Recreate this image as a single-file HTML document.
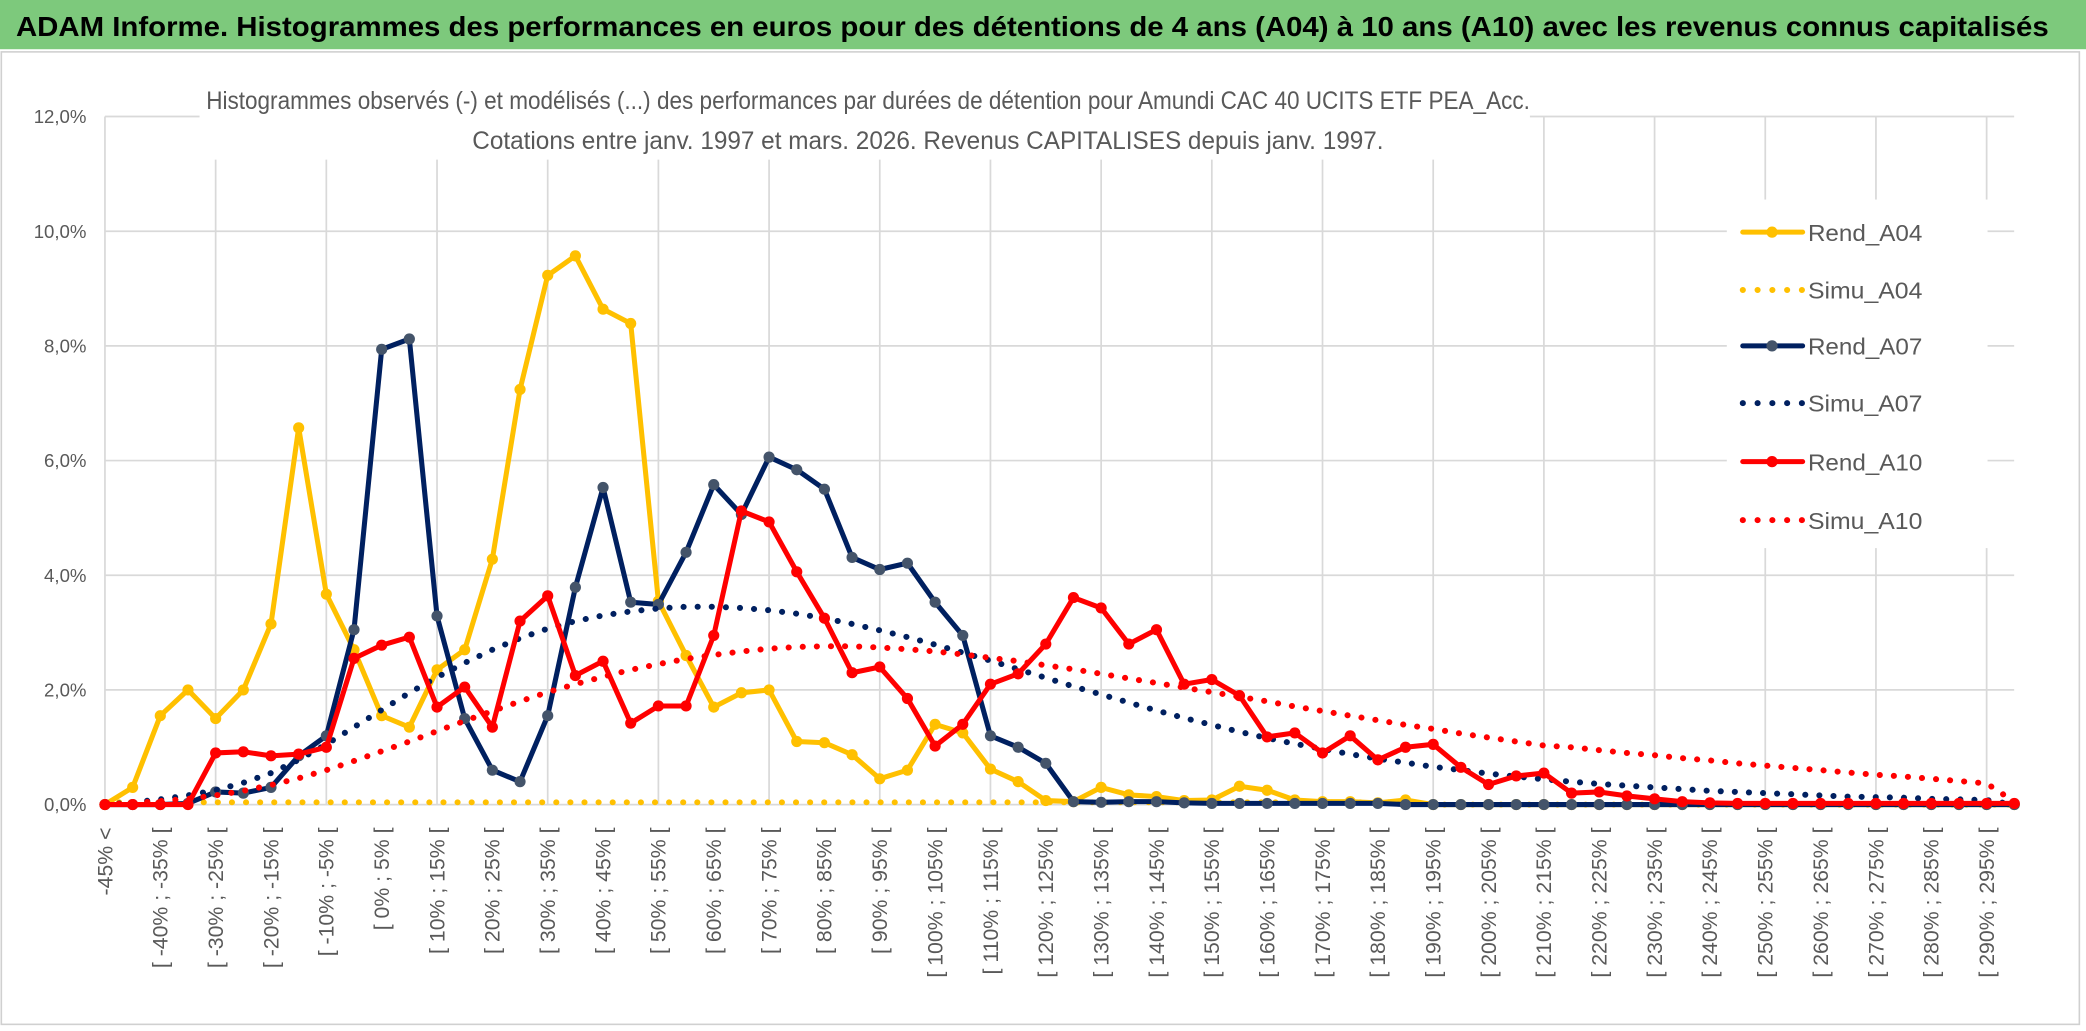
<!DOCTYPE html>
<html><head><meta charset="utf-8"><style>
html,body{margin:0;padding:0;background:#fff;}
svg{display:block;}
text{font-family:"Liberation Sans",sans-serif;}
</style></head><body>
<svg id="chart" width="2086" height="1031" viewBox="0 0 1568 775" preserveAspectRatio="none" xmlns="http://www.w3.org/2000/svg">
<rect x="0" y="0" width="1568" height="775" fill="#fff"/>
<rect x="0" y="0" width="1568" height="37" fill="#7dc97c"/>
<text x="12" y="27" font-size="21" font-weight="bold" fill="#000" textLength="1528" lengthAdjust="spacingAndGlyphs">ADAM Informe. Histogrammes des performances en euros pour des détentions de 4 ans (A04) à 10 ans (A10) avec les revenus connus capitalisés</text>
<rect x="1" y="39" width="1562" height="731" fill="none" stroke="#d0d0d0" stroke-width="1.2"/>
<g id="grid"></g>
<g id="series"></g>
<rect x="150" y="58" width="1000" height="62" fill="#fff"/>
<text x="155" y="82" font-size="18.5" fill="#595959" textLength="995" lengthAdjust="spacingAndGlyphs">Histogrammes observés (-) et modélisés (...) des performances par durées de détention pour Amundi CAC 40 UCITS ETF PEA_Acc.</text>
<text x="355" y="112" font-size="18.5" fill="#595959" textLength="685" lengthAdjust="spacingAndGlyphs">Cotations entre janv. 1997 et mars. 2026. Revenus CAPITALISES depuis janv. 1997.</text>
<g id="yaxis"></g>
<g id="xaxis"></g>
<rect x="1298" y="150" width="196" height="262" fill="#fff"/>
<g id="legend"></g>
</svg>
<script>
const categoriesLow = [];
for (let i = 1; i < 70; i++) categoriesLow.push(-45 + 5 * (i - 1));
const yTicks = [0, 2, 4, 6, 8, 10, 12];
const yTickLabels = ["0,0%", "2,0%", "4,0%", "6,0%", "8,0%", "10,0%", "12,0%"];
const rendA04 = [0,0.3,1.55,2.0,1.5,2.0,3.15,6.57,3.67,2.7,1.55,1.35,2.35,2.7,4.28,7.24,9.23,9.57,8.64,8.39,3.55,2.6,1.7,1.95,2.0,1.1,1.08,0.87,0.45,0.6,1.4,1.25,0.62,0.4,0.07,0.05,0.3,0.17,0.14,0.07,0.08,0.32,0.25,0.08,0.05,0.05,0.03,0.08,0,0,0,0,0,0,0,0,0,0,0,0,0,0,0,0,0,0,0,0,0,0];
const simuA04 = [0.04,0.04,0.04,0.04,0.04,0.04,0.04,0.04,0.04,0.04,0.04,0.04,0.04,0.04,0.04,0.04,0.04,0.04,0.04,0.04,0.04,0.04,0.04,0.04,0.04,0.04,0.04,0.04,0.04,0.04,0.04,0.04,0.04,0.04,0.04,0.04,0.04,0.04,0.04,0.04,0.04,0.04,0.04,0.04,0.04,0.04,0.04,0.04,0,0,0,0,0,0,0,0,0,0,0,0,0,0,0,0,0,0,0,0,0,0];
const rendA07 = [0,0,0,0.02,0.22,0.2,0.3,0.85,1.2,3.05,7.94,8.12,3.29,1.5,0.6,0.4,1.55,3.79,5.53,3.53,3.49,4.4,5.58,5.06,6.06,5.84,5.5,4.31,4.1,4.21,3.53,2.95,1.2,1.0,0.72,0.05,0.04,0.05,0.05,0.03,0.02,0.02,0.02,0.02,0.02,0.02,0.02,0,0,0,0,0,0,0,0,0,0,0,0,0,0,0,0,0,0,0,0,0,0,0];
const simuA07 = [0,0.04,0.09,0.16,0.25,0.38,0.55,0.78,1.05,1.35,1.65,1.95,2.22,2.47,2.7,2.9,3.07,3.2,3.3,3.37,3.42,3.45,3.45,3.43,3.39,3.33,3.25,3.15,3.04,2.92,2.79,2.65,2.51,2.36,2.21,2.06,1.92,1.78,1.64,1.51,1.39,1.27,1.16,1.06,0.97,0.88,0.8,0.73,0.66,0.6,0.54,0.49,0.44,0.4,0.36,0.33,0.3,0.27,0.24,0.22,0.2,0.18,0.16,0.14,0.13,0.12,0.1,0.09,0.08,0];
const rendA10 = [0,0,0,0,0.9,0.92,0.85,0.88,1.0,2.55,2.78,2.92,1.7,2.05,1.35,3.2,3.64,2.25,2.5,1.42,1.72,1.72,2.95,5.12,4.93,4.06,3.25,2.3,2.4,1.85,1.02,1.4,2.1,2.28,2.8,3.61,3.43,2.8,3.05,2.1,2.18,1.9,1.18,1.25,0.9,1.2,0.78,1.0,1.05,0.65,0.35,0.5,0.55,0.2,0.22,0.15,0.1,0.05,0.03,0.02,0.02,0.02,0.02,0.02,0.02,0.02,0.02,0.02,0.02,0.02];
const simuA10 = [0,0.03,0.06,0.1,0.16,0.24,0.34,0.46,0.6,0.76,0.93,1.1,1.28,1.46,1.63,1.8,1.96,2.1,2.23,2.35,2.45,2.54,2.61,2.67,2.72,2.75,2.76,2.76,2.74,2.71,2.67,2.62,2.56,2.5,2.43,2.36,2.28,2.2,2.12,2.04,1.96,1.88,1.8,1.71,1.63,1.55,1.47,1.39,1.32,1.24,1.17,1.1,1.03,1.0,0.95,0.9,0.86,0.81,0.77,0.72,0.68,0.64,0.6,0.56,0.52,0.49,0.45,0.41,0.37,0.05];

const NS = "http://www.w3.org/2000/svg";
const X0 = 78.9, DX = 20.8, Y0 = 604.8, YPER = 43.1;
function xPos(i) { return X0 + i * DX; }
function yPos(v) { return Y0 - v * YPER; }
function mk(tag, attrs, parent) {
  const e = document.createElementNS(NS, tag);
  for (const k in attrs) e.setAttribute(k, attrs[k]);
  parent.appendChild(e);
  return e;
}
const grid = document.getElementById("grid");
yTicks.forEach(function (t) {
  const l = mk("line", {x1: X0, x2: 1514, y1: yPos(t), y2: yPos(t), stroke: "#d9d9d9", "stroke-width": 1.3}, grid);
  
  
});
for (let i = 0; i < rendA04.length; i += 4) {
  const l = mk("line", {x1: xPos(i), x2: xPos(i), y1: yPos(12), y2: Y0, stroke: "#d9d9d9", "stroke-width": 1.3}, grid);
  
  
}
const ya = document.getElementById("yaxis");
yTicks.forEach(function (t, k) {
  const tx = mk("text", {x: 65, y: yPos(t) + 5, "font-size": 14, fill: "#595959", "text-anchor": "end"}, ya);
  tx.textContent = yTickLabels[k];
  
  
});
const xa = document.getElementById("xaxis");
for (let i = 0; i < rendA04.length; i += 2) {
  let label;
  if (i === 0) label = "-45% <";
  else { const lo = categoriesLow[i - 1]; label = "[ " + lo + "% ; " + (lo + 5) + "% ["; }
  const x = xPos(i) + 5.5, y = 622;
  const tx = mk("text", {x: x, y: y, "font-size": 16, fill: "#595959", "text-anchor": "end", transform: "rotate(-90 " + x + " " + y + ")"}, xa);
  tx.textContent = label;
  
  
}
const seriesLayer = document.getElementById("series");
const seriesDefs = [
  {name: "Rend_A04", data: rendA04, color: "#ffc000", marker: "#ffc000", dotted: false},
  {name: "Simu_A04", data: simuA04, color: "#ffc000", dotted: true},
  {name: "Rend_A07", data: rendA07, color: "#002060", marker: "#44546a", dotted: false},
  {name: "Simu_A07", data: simuA07, color: "#002060", dotted: true},
  {name: "Rend_A10", data: rendA10, color: "#ff0000", marker: "#ff0000", dotted: false},
  {name: "Simu_A10", data: simuA10, color: "#ff0000", dotted: true}
];
seriesDefs.forEach(function (s) {
  const g = mk("g", {}, seriesLayer);
  
  
  const pts = s.data.map(function (v, i) { return xPos(i).toFixed(1) + "," + yPos(v).toFixed(1); }).join(" ");
  const pl = mk("polyline", {points: pts, fill: "none", stroke: s.color, "stroke-width": s.dotted ? 4.5 : 3.8, "stroke-linejoin": "round", "stroke-linecap": "round"}, g);
  if (s.dotted) pl.setAttribute("stroke-dasharray", "0.1 10.5");
  
  
  if (!s.dotted) {
    s.data.forEach(function (v, i) {
      const c = mk("circle", {cx: xPos(i), cy: yPos(v), r: 4.2, fill: s.marker}, g);
      
      
    });
  }
});
const legend = document.getElementById("legend");
const legendY = [174.5, 218, 260, 303, 347, 391];
seriesDefs.forEach(function (s, k) {
  const y = legendY[k];
  const g = mk("g", {}, legend);
  
  
  const l = mk("line", {x1: 1310, x2: 1355, y1: y, y2: y, stroke: s.color, "stroke-width": s.dotted ? 4.5 : 3.8, "stroke-linecap": "round"}, g);
  if (s.dotted) l.setAttribute("stroke-dasharray", "0.1 11");
  
  
  if (!s.dotted) {
    const c = mk("circle", {cx: 1332, cy: y, r: 4.2, fill: s.marker}, g);
    
    
  }
  const t = mk("text", {x: 1359, y: y + 6.5, "font-size": 17.5, fill: "#595959", textLength: 86, lengthAdjust: "spacingAndGlyphs"}, g);
  t.textContent = s.name;
  
  
});
</script>
</body></html>
